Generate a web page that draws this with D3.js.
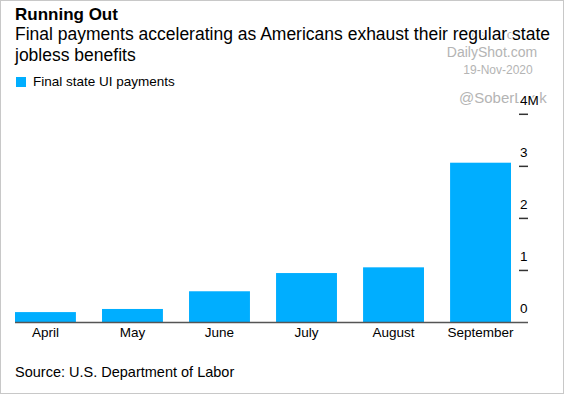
<!DOCTYPE html>
<html>
<head>
<meta charset="utf-8">
<script src="https://cdn.jsdelivr.net/npm/d3@7"></script>
<style>
  body { margin: 0; background: #fff; }
  svg { display: block; font-family: "Liberation Sans", Arial, sans-serif; }
</style>
</head>
<body>
<svg id="chart"></svg>
<script>
// data (millions)
var months = ["April", "May", "June", "July", "August", "September"];
var payments = [0.2, 0.26, 0.6, 0.95, 1.06, 3.07];
var tickValues = [0, 1, 2, 3, 4];

var W = 564, H = 394;
var svg = d3.select("#chart").attr("width", W).attr("height", H);

// frame
svg.append("rect")
    .attr("x", 0.5).attr("y", 0.5)
    .attr("width", W - 1).attr("height", H - 1)
    .attr("fill", "#fff").attr("stroke", "#c8c8c8");

// watermark (sits behind everything)
var wm = svg.append("g").attr("fill", "#b4b4b4");
wm.append("text").attr("x", 492).attr("y", 39).attr("text-anchor", "middle")
    .style("font-size", "13px").text("Posted on");
wm.append("text").attr("x", 492).attr("y", 57).attr("text-anchor", "middle")
    .style("font-size", "14px").text("DailyShot.com");
wm.append("text").attr("x", 498).attr("y", 74).attr("text-anchor", "middle")
    .style("font-size", "12px").text("19-Nov-2020");
wm.append("text").attr("x", 459).attr("y", 103)
    .style("font-size", "15px").text("@SoberLook");

// titles
svg.append("text").attr("x", 15).attr("y", 20)
    .style("font-size", "17px").style("font-weight", "bold").attr("fill", "#000")
    .text("Running Out");
var sub = svg.append("text").attr("x", 15).attr("y", 40)
    .style("font-size", "17.5px").attr("fill", "#000")
    .attr("stroke", "#fff").attr("stroke-width", 3).attr("paint-order", "stroke");
sub.append("tspan").attr("x", 15).attr("y", 40)
    .text("Final payments accelerating as Americans exhaust their regular state");
sub.append("tspan").attr("x", 15).attr("y", 61).text("jobless benefits");

// legend
svg.append("rect").attr("x", 16).attr("y", 77).attr("width", 10).attr("height", 10)
    .attr("fill", "#00aeff");
svg.append("text").attr("x", 33).attr("y", 86)
    .style("font-size", "13.5px").attr("fill", "#000")
    .text("Final state UI payments");

// scales
var x = d3.scaleBand().domain(months).range([15, 511])
    .paddingInner(0.3).paddingOuter(0);
var y = d3.scaleLinear().domain([0, 4]).range([322.5, 114.3]);

// bars
svg.append("g").selectAll("rect")
    .data(payments)
    .join("rect")
    .attr("x", function(d, i) { return x(months[i]); })
    .attr("y", function(d) { return y(d); })
    .attr("width", x.bandwidth())
    .attr("height", function(d) { return y(0) - y(d); })
    .attr("fill", "#00aeff");

// baseline
svg.append("line")
    .attr("x1", 15).attr("x2", 528)
    .attr("y1", y(0)).attr("y2", y(0))
    .attr("stroke", "#555").attr("stroke-width", 1.5);

// month labels
svg.append("g").selectAll("text")
    .data(months)
    .join("text")
    .attr("x", function(d) { return x(d) + x.bandwidth() / 2; })
    .attr("y", 337)
    .attr("text-anchor", "middle")
    .style("font-size", "13.5px").attr("fill", "#000")
    .text(function(d) { return d; });

// right axis: tick marks with labels sitting above them
var yAxis = svg.append("g");
yAxis.selectAll("line")
    .data(tickValues.slice(1))
    .join("line")
    .attr("x1", 519).attr("x2", 528)
    .attr("y1", function(d) { return y(d); })
    .attr("y2", function(d) { return y(d); })
    .attr("stroke", "#333").attr("stroke-width", 1.5);
yAxis.selectAll("text")
    .data(tickValues)
    .join("text")
    .attr("x", 520)
    .attr("y", function(d) { return y(d) - 9.5; })
    .style("font-size", "13.5px").attr("fill", "#000")
    .attr("stroke", "#fff").attr("stroke-width", 3).attr("paint-order", "stroke")
    .text(function(d) { return d === 4 ? "4M" : d; });

// source
svg.append("text").attr("x", 15).attr("y", 377)
    .style("font-size", "14.5px").attr("fill", "#000")
    .text("Source: U.S. Department of Labor");
</script>
</body>
</html>
